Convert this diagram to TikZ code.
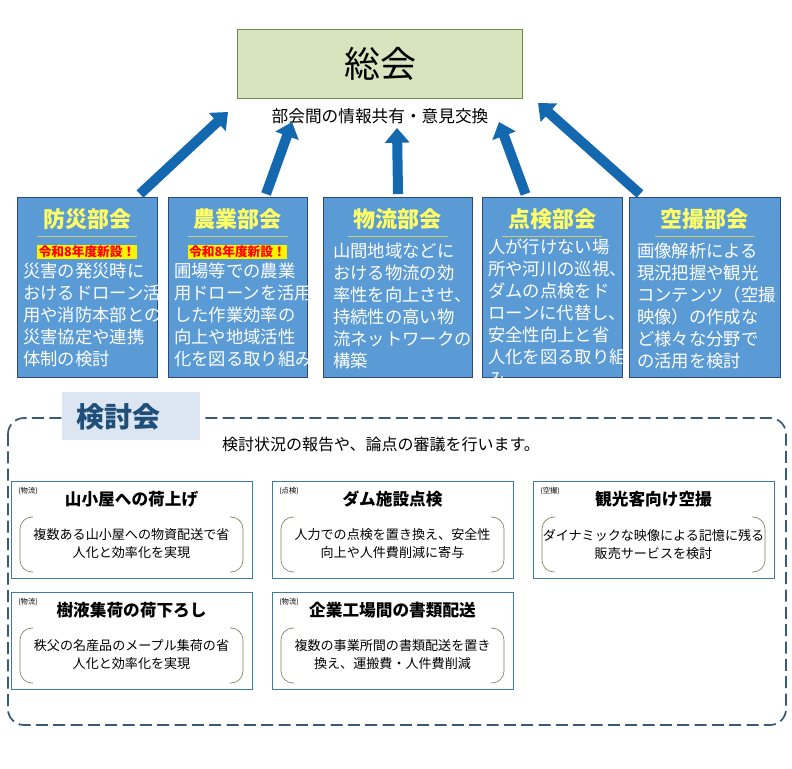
\documentclass[tikz,border=0pt]{standalone}
\usepackage{fontspec}
\setmainfont{Noto Sans CJK JP}
\usetikzlibrary{arrows.meta,calc}
\definecolor{bbox}{HTML}{5B9BD5}
\definecolor{bline}{HTML}{2E4A7A}
\definecolor{arr}{HTML}{1468B0}
\definecolor{gfill}{HTML}{D7E4BD}
\definecolor{gline}{HTML}{6E8B4E}
\definecolor{dashcol}{HTML}{3A5A78}
\definecolor{tabf}{HTML}{DCE6F2}
\definecolor{tabt}{HTML}{1F4E79}
\definecolor{cardl}{HTML}{3E7CA8}
\definecolor{brk}{HTML}{7F7F5F}
\definecolor{ttl}{HTML}{FFFF66}
\tikzset{
 bu/.style={draw=bline,fill=bbox,line width=0.8pt,anchor=north west,minimum width=#1,minimum height=135pt,inner sep=0},
 bttl/.style={text=ttl,font=\fontsize{16.5}{18}\selectfont\bfseries},
 btxt/.style={text=white,font=\fontsize{13}{16.5}\selectfont,align=left,anchor=north west,inner sep=0},
 newb/.style={fill=yellow,text=red,font=\fontsize{9.5}{11}\selectfont\bfseries,inner sep=1pt},
 bigarr/.style={draw=arr,line width=7.5pt,-{Triangle[width=18pt,length=11pt]}},
 card/.style={draw=cardl,line width=0.7pt,anchor=north west,minimum width=180.75pt,minimum height=72.75pt,inner sep=0},
 ctag/.style={font=\fontsize{5.5}{6}\selectfont,anchor=north west,inner sep=0},
 cttl/.style={font=\fontsize{12.5}{14}\selectfont\bfseries},
 ctxt/.style={font=\fontsize{9.8}{13.5}\selectfont,align=center},
 brkt/.style={draw=brk,line width=0.5pt,rounded corners=9pt}
}
\newcommand\mycard[6]{%
 \node[card] (#1) at (#2,#3) {};
 \node[ctag] (#1t) at ($(#2,#3)+(7,6)$) {#4};
 \node[cttl] (#1h) at ($(#2,#3)+(120.5,18)$) {#5};
 \draw[brkt] ($(#2,#3)+(22,36)$) -- ($(#2,#3)+(9,36)$) -- ($(#2,#3)+(9,91)$) -- ($(#2,#3)+(22,91)$);
 \draw[brkt] ($(#2,#3)+(219,36)$) -- ($(#2,#3)+(232,36)$) -- ($(#2,#3)+(232,91)$) -- ($(#2,#3)+(219,91)$);
 \node[ctxt] (#1x) at ($(#2,#3)+(120.5,63)$) {#6};
}
\begin{document}
\begin{tikzpicture}[x=0.75pt,y=-0.75pt]
\useasboundingbox[fill=white] (0,0) rectangle (792,768);
% soukai
\node[draw=gline,fill=gfill,line width=0.8pt,anchor=north west,minimum width=213.75pt,minimum height=51.75pt,inner sep=0] (sk) at (237,29) {};
\node[font=\fontsize{27}{30}\selectfont] (skt) at (380,64) {総会};
\node[font=\fontsize{12.5}{14}\selectfont] (sub) at (380,116) {部会間の情報共有・意見交換};
% boxes
\node[bu=105pt] (b1) at (17,197) {};
\node[bu=104.25pt] (b2) at (168,197) {};
\node[bu=111.75pt] (b3) at (323,197) {};
\node[bu=105pt] (b4) at (482,197) {};
\node[bu=113.25pt] (b5) at (629,197) {};
\foreach \n/\x in {b1/87,b2/237.5,b3/397.5,b4/552,b5/704.5}{
 \draw[draw=ttl!60!gray,line width=0.6pt] (\x-50,236) -- (\x+50,236);}
\node[bttl] (t1) at (87,219) {防災部会};
\node[bttl] (t2) at (237.5,219) {農業部会};
\node[bttl] (t3) at (397.5,219) {物流部会};
\node[bttl] (t4) at (552,219) {点検部会};
\node[bttl] (t5) at (704.5,219) {空撮部会};
\node[newb] (n1) at (87,252) {令和8年度新設！};
\node[newb] (n2) at (237.5,252) {令和8年度新設！};
\node[btxt] (x1) at (23,263) {災害の発災時に\\おけるドローン活\\用や消防本部との\\災害協定や連携\\体制の検討};
\node[btxt] (x2) at (174,263) {圃場等での農業\\用ドローンを活用\\した作業効率の\\向上や地域活性\\化を図る取り組み};
\node[btxt] (x3) at (333,243) {山間地域などに\\おける物流の効\\率性を向上させ、\\持続性の高い物\\流ネットワークの\\構築};
\node[btxt] (x4) at (488,239) {人が行けない場\\所や河川の巡視、\\ダムの点検をド\\ローンに代替し、\\安全性向上と省\\人化を図る取り組\\み};
\node[btxt] (x5) at (637,243) {画像解析による\\現況把握や観光\\コンテンツ（空撮\\映像）の作成な\\ど様々な分野で\\の活用を検討};
% arrows
\coordinate (e1) at (228,112);
\coordinate (e2) at (292,122);
\coordinate (e3) at (397,128);
\coordinate (e4) at (499,122);
\coordinate (e5) at (538,103);
\draw[bigarr] (140,194) -- (e1);
\draw[bigarr] ($(b2.north)+(28,-3)$) -- (e2);
\draw[bigarr] ($(b3.north)+(0,-3)$) -- (e3);
\draw[bigarr] ($(b4.north)+(-27,-3)$) -- (e4);
\draw[bigarr] (640,194) -- (e5);
% kentoukai
\draw[draw=dashcol,dash pattern=on 9pt off 4pt,line width=1.3pt,rounded corners=12pt] (8,418) rectangle (786,725);
\node[fill=tabf,anchor=north west,minimum width=103.5pt,minimum height=36pt,inner sep=0] (tab) at (62,392) {};
\node[text=tabt,font=\fontsize{21}{24}\selectfont\bfseries] (tabt) at (118,417) {検討会};
\node[font=\fontsize{12}{14}\selectfont] (kd) at (381,444) {検討状況の報告や、論点の審議を行います。};
\mycard{c1}{11}{481}{(物流)}{山小屋への荷上げ}{複数ある山小屋への物資配送で省\\人化と効率化を実現}
\mycard{c2}{272}{481}{(点検)}{ダム施設点検}{人力での点検を置き換え、安全性\\向上や人件費削減に寄与}
\mycard{c3}{533}{481}{(空撮)}{観光客向け空撮}{ダイナミックな映像による記憶に残る\\販売サービスを検討}
\mycard{c4}{11}{592}{(物流)}{樹液集荷の荷下ろし}{秩父の名産品のメープル集荷の省\\人化と効率化を実現}
\mycard{c5}{272}{592}{(物流)}{企業工場間の書類配送}{複数の事業所間の書類配送を置き\\換え、運搬費・人件費削減}
\end{tikzpicture}
\end{document}
